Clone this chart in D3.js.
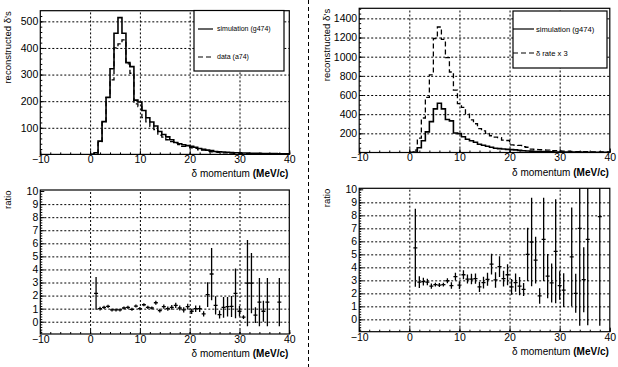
<!DOCTYPE html>
<html>
<head>
<meta charset="utf-8">
<script src="https://cdn.jsdelivr.net/npm/d3@7"></script>
<style>
  body { margin: 0; background: #fff; }
  svg { display: block; font-family: "Liberation Sans", Arial, sans-serif; }
</style>
</head>
<body>
<svg id="chart" width="618" height="367"></svg>
<script>
// 50 bins of 0.8 MeV/c between 0 and 40
const binLow = 0;
const binWidth = 0.8;

const xTicks = [-10, 0, 10, 20, 30, 40];
const countTicksLeft = [100, 200, 300, 400, 500];
const countTicksRight = [200, 400, 600, 800, 1000, 1200, 1400];
const ratioTicks = [0, 1, 2, 3, 4, 5, 6, 7, 8, 9, 10];

// simulation (g474), counts per bin
const simG474 = [0, 6, 50, 123, 215, 322, 455, 514, 455, 345,
  330, 204, 197, 165, 138, 122, 107, 86, 75, 66,
  55, 45, 40, 36, 33, 30, 27, 22, 19, 16,
  14, 11, 10, 9, 8, 7, 6, 6, 5, 5,
  4, 4, 4, 3, 3, 3, 3, 2, 2, 2];

// data (a74), counts per bin
const dataA74 = [0, 3, 45, 120, 213, 280, 400, 415, 430, 340,
  305, 190, 180, 138, 122, 105, 93, 72, 65, 55,
  48, 42, 37, 30, 30, 25, 23, 17, 16, 12,
  10, 9, 8, 6, 6, 5, 4, 4, 3, 3,
  3, 2, 2, 2, 2, 2, 1, 1, 1, 1];

// delta rate x 3, counts per bin
const deltaRate3 = [0, 25, 150, 360, 575, 810, 1190, 1310, 1180, 990,
  840, 650, 510, 470, 400, 340, 300, 250, 225, 200,
  175, 160, 155, 130, 125, 80, 78, 75, 60, 55,
  35, 33, 30, 28, 25, 20, 20, 18, 15, 15,
  12, 10, 10, 8, 8, 7, 6, 6, 5, 5];

// ratio data / simulation per bin and its error
const ratioLeft = [null, 2.17, 1.0, 1.1, 1.17, 0.9, 0.9, 0.9, 1.05, 1.1,
  0.95, 1.2, 1.0, 1.3, 1.1, 1.05, 1.45, 0.85, 1.15, 1.0,
  1.1, 1.25, 1.05, 0.9, 1.15, 0.8, 1.0, 1.0, 0.6, 2.07,
  3.65, 1.25, 0.55, 1.1, 1.15, 1.17, 2.17, 0.8, 0.35, 2.95,
  2.95, 0.5, 1.5, 0.8, 1.5, null, null, 1.5, null, null];
const ratioLeftErr = [0, 1.25, 0.15, 0.12, 0.1, 0.08, 0.07, 0.06, 0.07, 0.08,
  0.08, 0.1, 0.1, 0.12, 0.12, 0.12, 0.15, 0.14, 0.16, 0.16,
  0.18, 0.2, 0.2, 0.2, 0.22, 0.2, 0.25, 0.25, 0.2, 0.95,
  2.0, 0.7, 0.3, 0.8, 0.75, 0.8, 1.9, 0.4, 0.15, 3.3,
  2.3, 0.6, 1.85, 0.8, 1.85, 0, 0, 1.85, 0, 0];

// ratio delta rate x 3 / simulation per bin and its error
const ratioRight = [null, 5.5, 2.87, 2.9, 2.87, 2.55, 2.67, 2.64, 2.67, 2.97,
  2.6, 3.28, 2.64, 3.43, 3.1, 3.1, 3.13, 2.5, 2.82, 3.08,
  4.25, 3.03, 4.05, 3.13, 3.43, 2.5, 2.82, 2.56, 2.3, 5.0,
  5.95, 4.56, 1.8, 6.15, 3.33, 2.8, 5.23, 2.6, 2.25, null,
  4.8, 2.0, 7.0, 3.05, 6.15, null, null, 7.9, null, null];
const ratioRightErr = [0, 3.0, 0.45, 0.3, 0.25, 0.2, 0.15, 0.15, 0.15, 0.2,
  0.25, 0.3, 0.3, 0.35, 0.35, 0.4, 0.4, 0.4, 0.45, 0.5,
  0.8, 0.6, 0.8, 0.6, 0.8, 0.6, 0.7, 0.7, 0.5, 2.05,
  3.4, 1.8, 0.6, 3.2, 1.7, 1.5, 4.0, 1.1, 1.3, 0,
  3.8, 1.5, 7.5, 2.5, 6.6, 0, 0, 8.4, 0, 0];

const svg = d3.select('#chart');
svg.append('rect').attr('width', 618).attr('height', 367).attr('fill', '#fff');

// vertical dashed separator between left and right columns
svg.append('line')
  .attr('x1', 308.5).attr('x2', 308.5)
  .attr('y1', 0).attr('y2', 367)
  .attr('stroke', '#000')
  .attr('stroke-dasharray', '4,3');

const fmtNum = d => d < 0 ? '\u2212' + Math.abs(d) : String(d);

function drawPanel(cfg) {
  const x = d3.scaleLinear().domain([-10, 40]).range([cfg.left, cfg.right]);
  const y = d3.scaleLinear().domain(cfg.yDomain).range([cfg.bottom, cfg.top]);
  const w = cfg.right - cfg.left;
  const h = cfg.bottom - cfg.top;
  const g = svg.append('g');

  // grid
  g.append('g')
    .attr('transform', `translate(0,${cfg.bottom})`)
    .call(d3.axisBottom(x).tickValues(xTicks.slice(1, -1)).tickSize(-h).tickFormat(''))
    .call(a => a.select('.domain').remove())
    .call(a => a.selectAll('line').attr('stroke', '#000').attr('stroke-dasharray', '2,2'));
  g.append('g')
    .attr('transform', `translate(${cfg.left},0)`)
    .call(d3.axisLeft(y).tickValues(cfg.yTicks.filter(t => t < cfg.yDomain[1] - 0.1)).tickSize(-w).tickFormat(''))
    .call(a => a.select('.domain').remove())
    .call(a => a.selectAll('line').attr('stroke', '#000').attr('stroke-dasharray', '2,2'));

  // minor ticks
  const xMinor = d3.range(-10, 40.01, 2);
  g.append('g')
    .attr('transform', `translate(0,${cfg.bottom})`)
    .call(d3.axisBottom(x).tickValues(xMinor).tickSize(-2).tickFormat(''))
    .call(a => a.select('.domain').remove());
  const yMinor = d3.range(cfg.minorStart, cfg.yDomain[1], cfg.minorStep);
  g.append('g')
    .attr('transform', `translate(${cfg.left},0)`)
    .call(d3.axisLeft(y).tickValues(yMinor).tickSize(-2).tickFormat(''))
    .call(a => a.select('.domain').remove());

  // major ticks + labels
  g.append('g')
    .attr('transform', `translate(0,${cfg.bottom})`)
    .call(d3.axisBottom(x).tickValues(xTicks).tickSizeInner(-4).tickSizeOuter(0)
      .tickPadding(1.5).tickFormat(fmtNum))
    .call(a => a.select('.domain').remove())
    .call(a => a.selectAll('text').attr('font-size', 10.5).attr('fill', '#000')
      .attr('font-family', '"Liberation Sans", Arial, sans-serif'));
  g.append('g')
    .attr('transform', `translate(${cfg.left},0)`)
    .call(d3.axisLeft(y).tickValues(cfg.yTicks).tickSizeInner(-4).tickSizeOuter(0)
      .tickPadding(2).tickFormat(fmtNum))
    .call(a => a.select('.domain').remove())
    .call(a => a.selectAll('text').attr('font-size', 10.5).attr('fill', '#000')
      .attr('font-family', '"Liberation Sans", Arial, sans-serif'));
  g.selectAll('.tick line').attr('stroke-width', 1);

  // frame
  g.append('rect')
    .attr('x', cfg.left).attr('y', cfg.top)
    .attr('width', w).attr('height', h)
    .attr('fill', 'none').attr('stroke', '#000').attr('stroke-width', 1.2);

  // axis titles
  const xt = g.append('text')
    .attr('x', cfg.right - 1).attr('y', cfg.xTitleY)
    .attr('text-anchor', 'end')
    .attr('font-size', 10)
    .text('\u03b4 momentum ');
  xt.append('tspan').attr('font-weight', 'bold').text('(MeV/c)');

  g.append('text')
    .attr('transform', `translate(${cfg.yTitleX},${cfg.top + 0.5}) rotate(-90)`)
    .attr('text-anchor', 'end')
    .attr('font-size', 9.5)
    .text(cfg.yTitle);

  const clipId = 'clip' + cfg.id;
  svg.append('clipPath').attr('id', clipId)
    .append('rect').attr('x', cfg.left).attr('y', cfg.top).attr('width', w).attr('height', h);
  const plot = g.append('g').attr('clip-path', `url(#${clipId})`);

  return { x, y, plot };
}

function histPoints(values) {
  const pts = [{ e: binLow, v: 0 }];
  values.forEach((v, i) => pts.push({ e: binLow + i * binWidth, v }));
  const end = binLow + values.length * binWidth;
  pts.push({ e: end, v: values[values.length - 1] });
  pts.push({ e: end, v: 0 });
  return pts;
}

function drawHist(panel, values, dashed) {
  const line = d3.line()
    .x(d => panel.x(d.e))
    .y(d => panel.y(d.v))
    .curve(d3.curveStepAfter);
  panel.plot.append('path')
    .datum(histPoints(values))
    .attr('d', line)
    .attr('fill', 'none')
    .attr('stroke', '#000')
    .attr('stroke-width', dashed ? 1.3 : 1.6)
    .attr('stroke-dasharray', dashed ? '5,3' : null);
}

function drawRatio(panel, values, errs) {
  const pts = values.map((v, i) => ({ i, v, err: errs[i] })).filter(d => d.v !== null);
  const g = panel.plot.append('g').attr('stroke', '#000').attr('stroke-width', 1.3);
  g.selectAll('line.h').data(pts).enter().append('line')
    .attr('class', 'h')
    .attr('x1', d => panel.x(binLow + d.i * binWidth))
    .attr('x2', d => panel.x(binLow + (d.i + 1) * binWidth))
    .attr('y1', d => panel.y(d.v))
    .attr('y2', d => panel.y(d.v));
  g.selectAll('line.v').data(pts).enter().append('line')
    .attr('class', 'v')
    .attr('x1', d => panel.x(binLow + (d.i + 0.5) * binWidth))
    .attr('x2', d => panel.x(binLow + (d.i + 0.5) * binWidth))
    .attr('y1', d => panel.y(d.v - Math.max(d.err, 0.12)))
    .attr('y2', d => panel.y(d.v + Math.max(d.err, 0.12)));
}

function drawLegend(box, entries, fontSize, lineX1, lineX2, textX) {
  const g = svg.append('g');
  g.append('rect')
    .attr('x', box.x).attr('y', box.y).attr('width', box.w).attr('height', box.h)
    .attr('fill', '#fff').attr('stroke', '#000').attr('stroke-width', 1.2);
  entries.forEach(en => {
    g.append('line')
      .attr('x1', lineX1).attr('x2', lineX2)
      .attr('y1', en.y).attr('y2', en.y)
      .attr('stroke', '#000').attr('stroke-width', 1.2)
      .attr('stroke-dasharray', en.dashed ? '5,3' : null);
    g.append('text')
      .attr('x', textX).attr('y', en.y + fontSize * 0.35)
      .attr('font-size', fontSize)
      .text(en.label);
  });
}

// top-left: simulation vs data
const tl = drawPanel({
  id: 'tl', left: 40.3, right: 289.3, top: 10.7, bottom: 154.4,
  yDomain: [0, 540], yTicks: countTicksLeft, minorStart: 0, minorStep: 20,
  xTitleY: 177, yTitleX: 10.5, yTitle: 'reconstructed \u03b4\u2019s'
});
drawHist(tl, dataA74, true);
drawHist(tl, simG474, false);
drawLegend({ x: 194, y: 10.5, w: 90, h: 60.5 },
  [{ y: 29, label: 'simulation (g474)', dashed: false },
   { y: 57, label: 'data (a74)', dashed: true }], 7, 198, 213, 217);

// top-right: simulation vs delta rate x 3
const tr = drawPanel({
  id: 'tr', left: 359.2, right: 609.8, top: 8.3, bottom: 152.5,
  yDomain: [0, 1505], yTicks: countTicksRight, minorStart: 0, minorStep: 50,
  xTitleY: 175.5, yTitleX: 330, yTitle: 'reconstructed \u03b4\u2019s'
});
drawHist(tr, deltaRate3, true);
drawHist(tr, simG474, false);
drawLegend({ x: 513, y: 11, w: 94, h: 57 },
  [{ y: 29, label: 'simulation (g474)', dashed: false },
   { y: 53, label: '\u03b4 rate x 3', dashed: true }], 7.6, 513, 534, 536);

// bottom-left: ratio data / simulation
const bl = drawPanel({
  id: 'bl', left: 40.3, right: 289.3, top: 190, bottom: 334,
  yDomain: [-0.94, 10.08], yTicks: ratioTicks, minorStart: -0.8, minorStep: 0.2,
  xTitleY: 357, yTitleX: 10.5, yTitle: 'ratio'
});
drawRatio(bl, ratioLeft, ratioLeftErr);

// bottom-right: ratio delta rate x 3 / simulation
const br = drawPanel({
  id: 'br', left: 359.2, right: 609.8, top: 188.3, bottom: 331.7,
  yDomain: [-0.95, 10.08], yTicks: ratioTicks, minorStart: -0.8, minorStep: 0.2,
  xTitleY: 355, yTitleX: 330, yTitle: 'ratio'
});
drawRatio(br, ratioRight, ratioRightErr);
</script>
</body>
</html>
